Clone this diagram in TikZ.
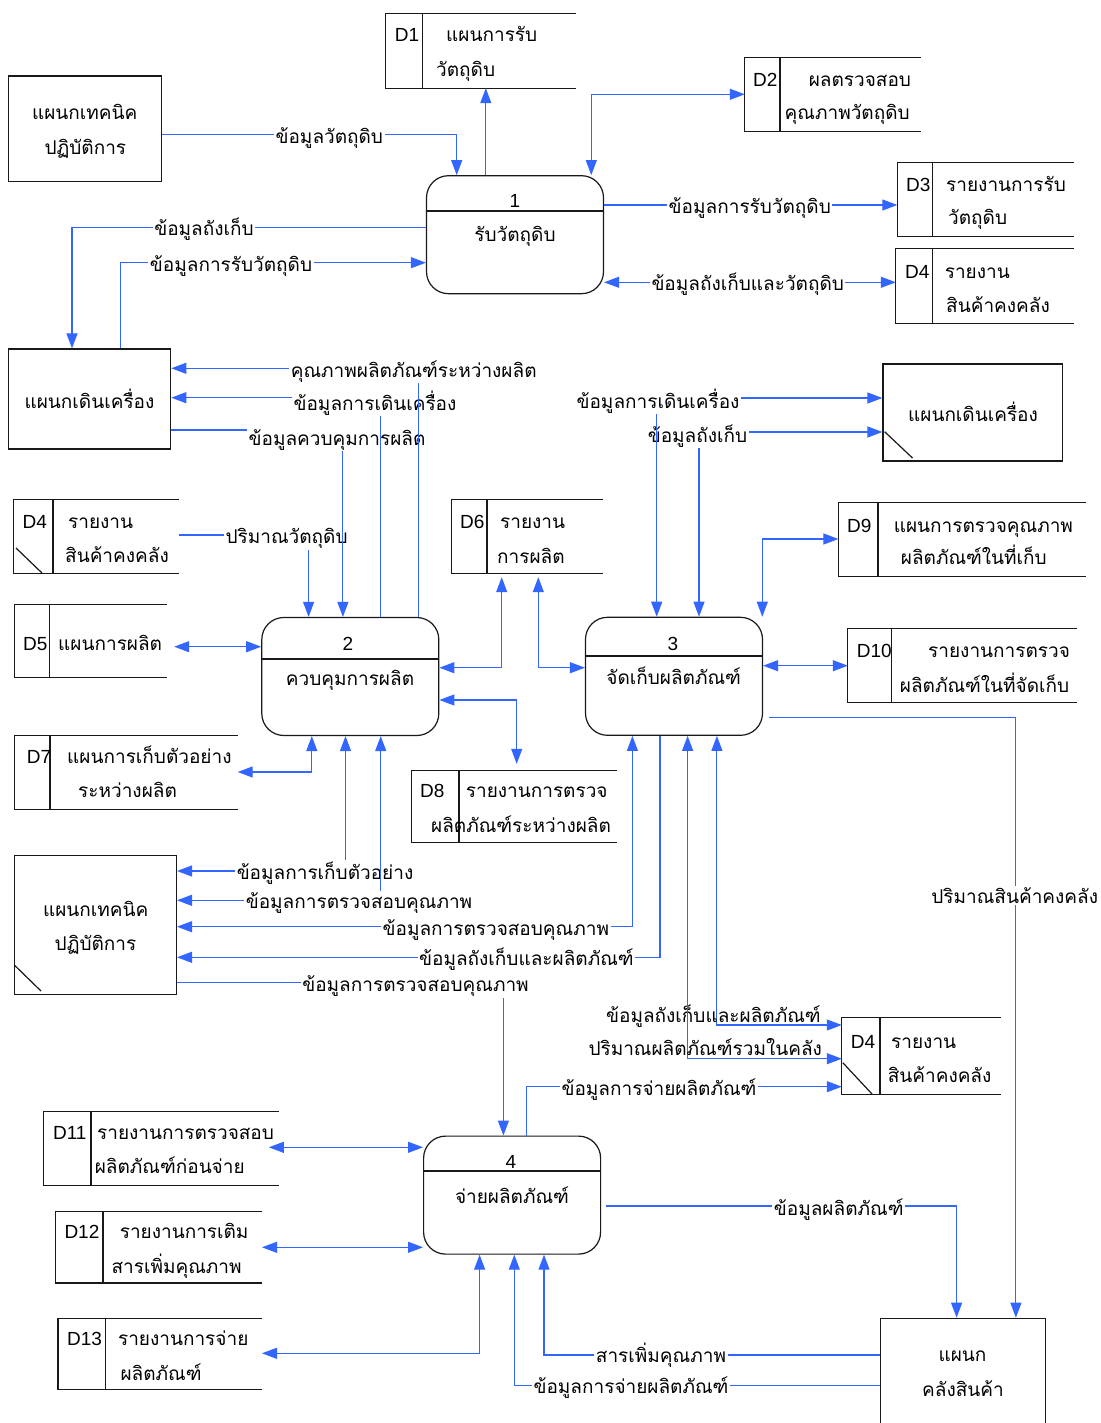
\documentclass[tikz,border=0pt]{standalone}
\usepackage{fontspec}
\setmainfont{Liberation Sans}
\newfontfamily\thaifont[Script=Thai]{Loma}
\usetikzlibrary{arrows.meta}
\definecolor{flowc}{RGB}{51,102,255}
\definecolor{edgec}{RGB}{25,25,25}
% data store: name, x1, y1, x2, y2, x of the divider (open on the right)
\newcommand\dstore[6]{%
  \node[storebox, minimum width={(#4-#2)*1pt}, minimum height={(#5-#3)*1pt}] (#1) at ({(#2+#4)/2},{(#3+#5)/2}) {};
  \draw[outline] (#1.north east) -- (#1.north west) -- (#1.south west) -- (#1.south east);
  \draw[outline] (#6,#3) -- (#6,#5);}
% external entity: name, x1, y1, x2, y2
\newcommand\extent[5]{%
  \node[extbox, minimum width={(#4-#2)*1pt}, minimum height={(#5-#3)*1pt}] (#1) at ({(#2+#4)/2},{(#3+#5)/2}) {};}
\tikzset{
  storebox/.style={rectangle, inner sep=0pt, draw=none},
  outline/.style={draw=edgec, line width=1.2pt},
  procbox/.style={rectangle, rounded corners=22pt, draw=edgec, line width=1.2pt, inner sep=0pt,
                  minimum width=177pt, minimum height=118pt},
  extbox/.style={rectangle, draw=edgec, line width=1.2pt, inner sep=0pt},
  dataflow/.style={draw=flowc, line width=1.1pt},
  thc/.style={font=\thaifont\fontsize{19}{23}\selectfont, inner sep=0pt, anchor=base},
  thl/.style={thc, anchor=base west},
  dl/.style={font=\fontsize{19}{23}\selectfont, inner sep=0pt, anchor=base west},
  numc/.style={font=\fontsize{19}{23}\selectfont, inner sep=0pt, anchor=base},
  lbl/.style={thc, fill=white, inner sep=1.5pt},
  lbln/.style={thc},
  >={Triangle[length=15pt,width=11pt]},
}
\begin{document}
\begin{tikzpicture}[x=1pt,y=-1pt]
\fill[white] (0,0) rectangle (1100,1423);
\useasboundingbox (0,0) rectangle (1100,1423);

% ---------------- external entities ----------------
\extent{e1}{8.4}{76}{161.7}{181.3}
\node[thc] (e1a) at (84.7,120) {แผนกเทคนิค};
\node[thc] (e1b) at (85.4,155) {ปฏิบัติการ};

\extent{e2}{8.2}{349}{170.7}{449}
\node[thc] (e2a) at (89.5,408) {แผนกเดินเครื่อง};

\extent{e3}{883}{364}{1062.5}{461}
\node[thc] (e3a) at (973,421.7) {แผนกเดินเครื่อง};
\draw[outline] (884.6,431.7) -- (912.5,458);

\extent{e4}{14.3}{855.7}{176.4}{994.3}
\node[thc] (e4a) at (95.7,916.7) {แผนกเทคนิค};
\node[thc] (e4b) at (95.5,950) {ปฏิบัติการ};
\draw[outline] (14.3,965) -- (41,991);

\extent{e5}{880.7}{1318.3}{1045.5}{1430}
\node[thc] (e5a) at (962.5,1361.7) {แผนก};
\node[thc] (e5b) at (963,1396.7) {คลังสินค้า};

% ---------------- processes ----------------
\node[procbox] (p1) at (515,234.7) {};
\draw[outline] (p1.west |- 0,211) -- (p1.east |- 0,211);
\node[numc] (p1n) at (515,208) {1};
\node[thc] (p1t) at (515,242) {รับวัตถุดิบ};

\node[procbox] (p2) at (350.3,676.5) {};
\draw[outline] (p2.west |- 0,659) -- (p2.east |- 0,659);
\node[numc] (p2n) at (348,650) {2};
\node[thc] (p2t) at (350,685) {ควบคุมการผลิต};

\node[procbox] (p3) at (674,676.3) {};
\draw[outline] (p3.west |- 0,656) -- (p3.east |- 0,656);
\node[numc] (p3n) at (673,650) {3};
\node[thc] (p3t) at (673.7,684) {จัดเก็บผลิตภัณฑ์};

\node[procbox] (p4) at (512.1,1195.1) {};
\draw[outline] (p4.west |- 0,1171) -- (p4.east |- 0,1171);
\node[numc] (p4n) at (511,1168) {4};
\node[thc] (p4t) at (512,1203) {จ่ายผลิตภัณฑ์};

% ---------------- data stores ----------------
\dstore{d1}{386}{14}{576}{88}{422.6}
\node[dl] (d1i) at (394.6,42) {D1};
\node[thl] (d1a) at (446,42) {แผนการรับ};
\node[thl] (d1b) at (436,77) {วัตถุดิบ};

\dstore{d2}{745}{58}{920.5}{131.5}{780}
\node[dl] (d2i) at (753,87) {D2};
\node[thl] (d2a) at (808.6,87) {ผลตรวจสอบ};
\node[thl] (d2b) at (784.5,120) {คุณภาพวัตถุดิบ};

\dstore{d3}{897.5}{163}{1074}{236}{932.6}
\node[dl] (d3i) at (906,192) {D3};
\node[thl] (d3a) at (946,192) {รายงานการรับ};
\node[thl] (d3b) at (948,225) {วัตถุดิบ};

\dstore{d4a}{896}{249}{1074}{323.3}{932.6}
\node[dl] (d4ai) at (905,278) {D4};
\node[thl] (d4aa) at (944.6,278) {รายงาน};
\node[thl] (d4ab) at (946,312) {สินค้าคงคลัง};

\dstore{d4b}{14}{500}{178.6}{573}{53}
\node[dl] (d4bi) at (22.5,528) {D4};
\node[thl] (d4ba) at (68,528) {รายงาน};
\node[thl] (d4bb) at (65,562) {สินค้าคงคลัง};
\draw[outline] (16,548) -- (42,573);

\dstore{d6}{451.7}{500}{603}{573}{487}
\node[dl] (d6i) at (460,528) {D6};
\node[thl] (d6a) at (500,528) {รายงาน};
\node[thl] (d6b) at (497,563) {การผลิต};

\dstore{d9}{838.6}{502.7}{1086}{576}{878}
\node[dl] (d9i) at (847,532) {D9};
\node[thl] (d9a) at (893.6,532) {แผนการตรวจคุณภาพ};
\node[thl] (d9b) at (900.7,564) {ผลิตภัณฑ์ในที่เก็บ};

\dstore{d5}{14.3}{605}{167}{677}{49.3}
\node[dl] (d5i) at (23,650) {D5};
\node[thl] (d5a) at (58,650) {แผนการผลิต};

\dstore{d10}{848}{629}{1077}{702}{891.7}
\node[dl] (d10i) at (856.6,657) {D10};
\node[thl] (d10a) at (928,657) {รายงานการตรวจ};
\node[thl] (d10b) at (899.7,692) {ผลิตภัณฑ์ในที่จัดเก็บ};

\dstore{d7}{14.3}{736}{237.5}{809}{50}
\node[dl] (d7i) at (26.8,763) {D7};
\node[thl] (d7a) at (67,763) {แผนการเก็บตัวอย่าง};
\node[thl] (d7b) at (78,797) {ระหว่างผลิต};

\dstore{d8}{412}{771}{617}{842}{459}
\node[dl] (d8i) at (420,797) {D8};
\node[thl] (d8a) at (465.7,797) {รายงานการตรวจ};
\node[thl] (d8b) at (431,832) {ผลิตภัณฑ์ระหว่างผลิต};

\dstore{d4c}{842}{1018}{1001}{1094}{880}
\node[dl] (d4ci) at (850.7,1048) {D4};
\node[thl] (d4ca) at (891,1048) {รายงาน};
\node[thl] (d4cb) at (887.6,1082) {สินค้าคงคลัง};
\draw[outline] (842.8,1062.7) -- (872,1094);

\dstore{d11}{43.6}{1111.7}{278.6}{1185}{91}
\node[dl] (d11i) at (52.9,1139) {D11};
\node[thl] (d11a) at (97,1139) {รายงานการตรวจสอบ};
\node[thl] (d11b) at (94.6,1173) {ผลิตภัณฑ์ก่อนจ่าย};

\dstore{d12}{55.4}{1211.7}{261.8}{1282.7}{102.9}
\node[dl] (d12i) at (64.3,1238) {D12};
\node[thl] (d12a) at (119.6,1238) {รายงานการเติม};
\node[thl] (d12b) at (111.4,1273) {สารเพิ่มคุณภาพ};

\dstore{d13}{58.2}{1318.3}{261.8}{1389}{105.4}
\node[dl] (d13i) at (67,1345) {D13};
\node[thl] (d13a) at (117.9,1345) {รายงานการจ่าย};
\node[thl] (d13b) at (120.4,1380) {ผลิตภัณฑ์};

% ---------------- data flows around process 1 ----------------
\draw[dataflow,->] (e1.east |- 0,134.7) -- (456.7,134.7) -- (456.7,0 |- p1.north);
\node[lbl] (f1) at (329.3,143.3) {ข้อมูลวัตถุดิบ};
\draw[dataflow,->] (485.8,0 |- p1.north) -- (485.8,0 |- d1.south);
\draw[dataflow,<->] (591.3,0 |- p1.north) -- (591.3,94.3) -- (d2.west |- 0,94.3);
\draw[dataflow,->] (p1.east |- 0,205) -- (d3.west |- 0,205);
\node[lbl] (f4) at (749.8,213.3) {ข้อมูลการรับวัตถุดิบ};
\draw[dataflow,<->] (p1.east |- 0,282.3) -- (d4a.west |- 0,282.3);
\node[lbl] (f5) at (747.7,290) {ข้อมูลถังเก็บและวัตถุดิบ};
\draw[dataflow,->] (p1.west |- 0,227.7) -- (72,227.7) -- (72,0 |- e2.north);
\node[lbl] (f6) at (204,236) {ข้อมูลถังเก็บ};
\draw[dataflow,->] (120.7,0 |- e2.north) -- (120.7,262.7) -- (p1.west |- 0,262.7);
\node[lbl] (f7) at (231,271.7) {ข้อมูลการรับวัตถุดิบ};

% ---------------- data flows around process 2 ----------------
\draw[dataflow,->] (d4b.east |- 0,535) -- (308.6,535) -- (308.6,0 |- p2.north);
\node[lbl] (f11) at (286.6,543.3) {ปริมาณวัตถุดิบ};
\draw[dataflow,->] (e2.east |- 0,430) -- (342.9,430) -- (342.9,0 |- p2.north);
\node[lbl] (f10) at (337,445) {ข้อมูลควบคุมการผลิต};
\draw[dataflow,->] (380.7,0 |- p2.north) -- (380.7,397.7) -- (e2.east |- 0,397.7);
\node[lbl] (f9) at (375,410) {ข้อมูลการเดินเครื่อง};
\draw[dataflow,->] (418.6,0 |- p2.north) -- (418.6,368.3) -- (e2.east |- 0,368.3);
\node[lbl] (f8) at (413.7,377) {คุณภาพผลิตภัณฑ์ระหว่างผลิต};

\draw[dataflow,<->,shorten <=7pt] (d5.east |- 0,646.7) -- (p2.west |- 0,646.7);
\draw[dataflow,<->] (d7.east |- 0,772) -- (311.8,772) -- (311.8,0 |- p2.south);
\draw[dataflow,<->,shorten >=4pt] (p2.east |- 0,667.7) -- (501.7,667.7) -- (501.7,0 |- d6.south);
\draw[dataflow,<->,shorten <=4pt] (538.3,0 |- d6.south) -- (538.3,667.7) -- (p3.west |- 0,667.7);
\draw[dataflow,<->,shorten >=7pt] (p2.east |- 0,700) -- (516.7,700) -- (516.7,0 |- d8.north);

% ---------------- data flows around process 3 ----------------
\draw[dataflow,<->] (699,0 |- p3.north) -- (699,432) -- (e3.west |- 0,432);
\node[lbl] (f28) at (697.5,442) {ข้อมูลถังเก็บ};
\draw[dataflow,<->] (656.7,0 |- p3.north) -- (656.7,398) -- (e3.west |- 0,398);
\node[lbl] (f27) at (658,408) {ข้อมูลการเดินเครื่อง};
\draw[dataflow,<->] (d9.west |- 0,539) -- (762.3,539) -- (762.3,0 |- p3.north);
\draw[dataflow,<->] (p3.east |- 0,665.7) -- (d10.west |- 0,665.7);
\draw[dataflow,->,shorten <=6pt] (p3.east |- 0,717.3) -- (1015.9,717.3) -- (1015.9,0 |- e5.north);
\node[lbl] (f23) at (1014.7,903) {ปริมาณสินค้าคงคลัง};

% ---------------- flows to the lower technical department ----------------
\draw[dataflow,<->] (e4.east |- 0,871) -- (345.5,871) -- (345.5,0 |- p2.south);
\node[lbl] (f14) at (325,879) {ข้อมูลการเก็บตัวอย่าง};
\draw[dataflow,<->] (e4.east |- 0,900.3) -- (380.7,900.3) -- (380.7,0 |- p2.south);
\node[lbl] (f15) at (359,908) {ข้อมูลการตรวจสอบคุณภาพ};
\draw[dataflow,<->] (e4.east |- 0,926.7) -- (632.4,926.7) -- (632.4,0 |- p3.south);
\node[lbl] (f16) at (495.8,935) {ข้อมูลการตรวจสอบคุณภาพ};
\draw[dataflow,->] (660,0 |- p3.south) -- (660,957.3) -- (e4.east |- 0,957.3);
\node[lbl] (f17) at (526.4,965) {ข้อมูลถังเก็บและผลิตภัณฑ์};
\draw[dataflow,->] (e4.east |- 0,982.7) -- (503.4,982.7) -- (503.4,0 |- p4.north);
\node[lbl] (f18) at (415.5,991.7) {ข้อมูลการตรวจสอบคุณภาพ};

% ---------------- flows to the lower stock report ----------------
\draw[dataflow,<->] (716.9,0 |- p3.south) -- (716.9,1025) -- (d4c.west |- 0,1025);
\node[lbln] (f19) at (713.4,1022) {ข้อมูลถังเก็บและผลิตภัณฑ์};
\draw[dataflow,<->] (687.6,0 |- p3.south) -- (687.6,1058.7) -- (d4c.west |- 0,1058.7);
\node[lbln] (f20) at (705.2,1055) {ปริมาณผลิตภัณฑ์รวมในคลัง};
\draw[dataflow,->] (526.7,0 |- p4.north) -- (526.7,1086.7) -- (d4c.west |- 0,1086.7);
\node[lbl] (f21) at (659,1095) {ข้อมูลการจ่ายผลิตภัณฑ์};

% ---------------- data flows around process 4 ----------------
\draw[dataflow,<->,shorten <=-10pt] (d11.east |- 0,1147.3) -- (p4.west |- 0,1147.3);
\draw[dataflow,<->] (d12.east |- 0,1247.3) -- (p4.west |- 0,1247.3);
\draw[dataflow,<->] (d13.east |- 0,1353.3) -- (479.6,1353.3) -- (479.6,0 |- p4.south);
\draw[dataflow,->] (e5.west |- 0,1385.7) -- (514.3,1385.7) -- (514.3,0 |- p4.south);
\node[lbl] (f33) at (631,1393) {ข้อมูลการจ่ายผลิตภัณฑ์};
\draw[dataflow,->] (e5.west |- 0,1355) -- (544,1355) -- (544,0 |- p4.south);
\node[lbl] (f34) at (661,1362) {สารเพิ่มคุณภาพ};
\draw[dataflow,->,shorten <=5pt] (p4.east |- 0,1206) -- (956.6,1206) -- (956.6,0 |- e5.north);
\node[lbl] (f35) at (838.7,1215) {ข้อมูลผลิตภัณฑ์};
\end{tikzpicture}
\end{document}
